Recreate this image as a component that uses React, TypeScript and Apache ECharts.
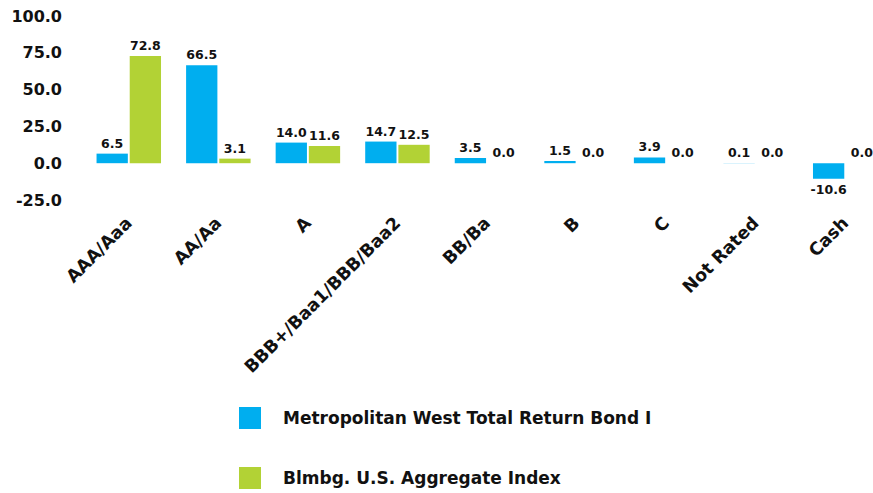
import React, { useEffect, useRef } from "react";
import * as echarts from "echarts";

const categories = ["AAA/Aaa", "AA/Aa", "A", "BBB+/Baa1/BBB/Baa2", "BB/Ba", "B", "C", "Not Rated", "Cash"];
const fundName = "Metropolitan West Total Return Bond I";
const indexName = "Blmbg. U.S. Aggregate Index";
const fundValues = [6.5, 66.5, 14.0, 14.7, 3.5, 1.5, 3.9, 0.1, -10.6];
const indexValues = [72.8, 3.1, 11.6, 12.5, 0.0, 0.0, 0.0, 0.0, 0.0];

const FONT = "'DejaVu Sans', sans-serif";

export default function App() {
  const ref = useRef<HTMLDivElement>(null);
  useEffect(() => {
    if (!ref.current) return;
    const chart = echarts.init(ref.current, undefined, { renderer: "svg" });
    const mkData = (vals: number[]) =>
      vals.map((v) => ({
        value: v,
        label: { position: v < 0 ? "bottom" : "top" },
      }));
    const labelCfg = {
      show: true,
      formatter: (p: any) => Number(p.value).toFixed(1),
      color: "#111",
      fontFamily: FONT,
      fontWeight: "bold" as const,
      fontSize: 12.5,
      distance: 4,
    };
    chart.setOption({
      animation: false,
      grid: { left: 84, top: 16, width: 806, height: 184, containLabel: false },
      legend: {
        orient: "vertical",
        left: 239,
        top: 407,
        padding: 0,
        itemWidth: 22,
        itemHeight: 22,
        itemGap: 38,
        icon: "rect",
        textStyle: { fontFamily: FONT, fontWeight: "bold", fontSize: 17, color: "#111", padding: [0, 0, 0, 17] },
        data: [fundName, indexName],
      },
      xAxis: {
        type: "category",
        data: categories,
        axisLine: { show: false },
        axisTick: { show: false },
        axisLabel: {
          rotate: 45,
          interval: 0,
          margin: 20,
          fontFamily: FONT,
          fontWeight: "bold",
          fontSize: 17.5,
          color: "#111",
        },
      },
      yAxis: {
        type: "value",
        min: -25,
        max: 100,
        interval: 25,
        splitLine: { show: false },
        axisLine: { show: false },
        axisTick: { show: false },
        axisLabel: {
          margin: 22,
          formatter: (v: number) => v.toFixed(1),
          fontFamily: FONT,
          fontWeight: "bold",
          fontSize: 16,
          color: "#111",
        },
      },
      series: [
        {
          name: fundName,
          type: "bar",
          data: mkData(fundValues),
          itemStyle: { color: "#00AEEF" },
          barGap: "6%",
          barCategoryGap: "28%",
          label: labelCfg,
        },
        {
          name: indexName,
          type: "bar",
          data: mkData(indexValues),
          itemStyle: { color: "#B2D235" },
          barGap: "6%",
          barCategoryGap: "28%",
          label: labelCfg,
        },
      ],
    });
    return () => chart.dispose();
  }, []);
  return (
    <div
      ref={ref}
      style={{ position: "fixed", left: 0, top: 0, width: 910, height: 493, background: "#fff" }}
    />
  );
}
